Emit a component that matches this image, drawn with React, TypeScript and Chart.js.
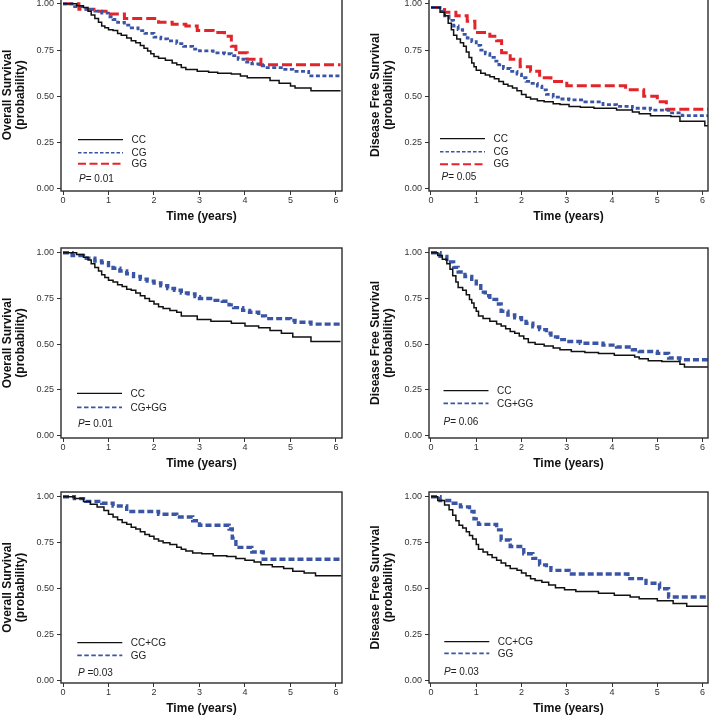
import React, { useEffect, useRef } from "react";
import { Chart, registerables } from "chart.js";
Chart.register(...registerables);

// ---------- axis ticks ----------
const X_TICKS = [0, 1, 2, 3, 4, 5, 6];
const Y_TICKS = [0, 0.25, 0.5, 0.75, 1];

// ---------- Panel 1: Overall survival, CC / CG / GG ----------
const os1CcT = [0, 0.3, 0.45, 0.55, 0.62, 0.7, 0.78, 0.85, 0.92, 1.0, 1.1, 1.2, 1.28, 1.4, 1.5, 1.6, 1.7, 1.78, 1.86, 1.93, 2.0, 2.1, 2.25, 2.4, 2.5, 2.6, 2.7, 2.95, 3.2, 3.4, 3.7, 3.9, 4.05, 4.55, 4.75, 5.0, 5.1, 5.45, 6.1];
const os1CcS = [1, 0.99, 0.98, 0.96, 0.94, 0.92, 0.9, 0.88, 0.87, 0.86, 0.855, 0.84, 0.83, 0.815, 0.8, 0.79, 0.775, 0.76, 0.745, 0.73, 0.715, 0.705, 0.695, 0.68, 0.67, 0.655, 0.645, 0.635, 0.63, 0.625, 0.62, 0.61, 0.6, 0.585, 0.57, 0.555, 0.545, 0.53, 0.53];
const os1CgT = [0, 0.2, 0.5, 0.7, 0.85, 1.0, 1.1, 1.2, 1.35, 1.5, 1.65, 1.8, 2.0, 2.15, 2.3, 2.5, 2.65, 2.85, 3.0, 3.3, 3.55, 3.7, 3.85, 4.0, 4.15, 4.3, 4.45, 4.8, 5.05, 5.4, 6.1];
const os1CgS = [1, 0.985, 0.97, 0.96, 0.95, 0.93, 0.915, 0.9, 0.885, 0.87, 0.855, 0.84, 0.82, 0.81, 0.8, 0.785, 0.77, 0.755, 0.745, 0.735, 0.73, 0.72, 0.7, 0.685, 0.675, 0.665, 0.655, 0.645, 0.635, 0.61, 0.61];
const os1GgT = [0, 0.35, 0.75, 1.0, 1.35, 2.1, 2.4, 2.7, 2.95, 3.3, 3.55, 3.7, 3.8, 4.05, 4.35, 6.1];
const os1GgS = [1, 0.97, 0.96, 0.945, 0.92, 0.9, 0.89, 0.88, 0.855, 0.845, 0.825, 0.77, 0.735, 0.7, 0.67, 0.67];

// ---------- Panel 2: Disease free survival, CC / CG / GG ----------
const dfs1CcT = [0, 0.2, 0.3, 0.38, 0.45, 0.5, 0.57, 0.65, 0.72, 0.78, 0.84, 0.9, 0.95, 1.0, 1.1, 1.2, 1.3, 1.4, 1.5, 1.6, 1.7, 1.8, 1.9, 2.0, 2.1, 2.2, 2.35, 2.5, 2.7, 2.85, 3.05, 3.3, 3.6, 4.1, 4.45, 4.6, 4.85, 5.3, 5.5, 6.05, 6.12];
const dfs1CcS = [0.98, 0.955, 0.935, 0.895, 0.86, 0.83, 0.81, 0.79, 0.77, 0.74, 0.71, 0.68, 0.66, 0.64, 0.625, 0.615, 0.605, 0.595, 0.58, 0.565, 0.555, 0.545, 0.53, 0.51, 0.495, 0.485, 0.475, 0.47, 0.46, 0.455, 0.445, 0.44, 0.435, 0.425, 0.415, 0.405, 0.395, 0.39, 0.365, 0.34, 0.34];
const dfs1CgT = [0, 0.2, 0.3, 0.4, 0.5, 0.6, 0.7, 0.8, 0.9, 1.0, 1.1, 1.2, 1.3, 1.4, 1.5, 1.6, 1.75, 1.9, 2.0, 2.1, 2.2, 2.35, 2.45, 2.55, 2.7, 2.85, 3.05, 3.4, 3.8, 4.1, 4.45, 4.85, 5.25, 5.55, 6.12];
const dfs1CgS = [0.98, 0.96, 0.935, 0.91, 0.88, 0.86, 0.835, 0.815, 0.795, 0.775, 0.75, 0.73, 0.71, 0.69, 0.67, 0.65, 0.635, 0.62, 0.6, 0.58, 0.57, 0.555, 0.535, 0.51, 0.495, 0.485, 0.48, 0.47, 0.455, 0.445, 0.435, 0.425, 0.41, 0.395, 0.395];
const dfs1GgT = [0, 0.3, 0.55, 0.8, 0.97, 1.3, 1.45, 1.56, 1.75, 1.97, 2.2, 2.4, 2.65, 3.0, 4.3, 4.7, 5.0, 5.2, 6.12];
const dfs1GgS = [0.98, 0.955, 0.935, 0.905, 0.845, 0.825, 0.8, 0.735, 0.7, 0.66, 0.635, 0.6, 0.58, 0.557, 0.535, 0.5, 0.47, 0.43, 0.43];

// ---------- Panel 3: Overall survival, CC / CG+GG ----------
const os2CcT = [0, 0.3, 0.45, 0.55, 0.62, 0.7, 0.78, 0.85, 0.92, 1.0, 1.1, 1.2, 1.3, 1.4, 1.5, 1.6, 1.7, 1.8, 1.9, 2.0, 2.1, 2.2, 2.35, 2.5, 2.6, 2.95, 3.25, 3.7, 4.0, 4.3, 4.55, 4.8, 5.05, 5.45, 6.1];
const os2CcS = [1, 0.99, 0.975, 0.96, 0.94, 0.92, 0.9, 0.88, 0.865, 0.85, 0.84, 0.825, 0.815, 0.8, 0.795, 0.78, 0.765, 0.75, 0.735, 0.72, 0.705, 0.695, 0.685, 0.675, 0.655, 0.635, 0.625, 0.615, 0.6, 0.59, 0.575, 0.56, 0.54, 0.515, 0.515];
const os2CgggT = [0, 0.2, 0.45, 0.7, 0.85, 1.0, 1.1, 1.25, 1.4, 1.55, 1.7, 1.85, 2.0, 2.15, 2.3, 2.45, 2.6, 2.75, 2.9, 3.0, 3.3, 3.5, 3.65, 3.75, 3.95, 4.1, 4.3, 4.45, 5.0, 5.1, 5.45, 6.1];
const os2CgggS = [1, 0.985, 0.97, 0.955, 0.945, 0.93, 0.915, 0.9, 0.885, 0.87, 0.855, 0.845, 0.835, 0.82, 0.805, 0.795, 0.78, 0.775, 0.76, 0.75, 0.74, 0.735, 0.715, 0.7, 0.685, 0.675, 0.655, 0.64, 0.63, 0.62, 0.61, 0.61];

// ---------- Panel 4: Disease free survival, CC / CG+GG ----------
const dfs2CcT = [0, 0.15, 0.25, 0.35, 0.42, 0.48, 0.55, 0.6, 0.7, 0.78, 0.85, 0.9, 0.95, 1.0, 1.05, 1.15, 1.3, 1.45, 1.55, 1.65, 1.75, 1.85, 1.95, 2.05, 2.15, 2.3, 2.5, 2.7, 2.85, 3.1, 3.4, 3.7, 4.05, 4.5, 4.6, 4.8, 5.1, 5.5, 5.6, 6.12, 6.17];
const dfs2CcS = [1, 0.985, 0.965, 0.94, 0.91, 0.875, 0.84, 0.81, 0.795, 0.77, 0.745, 0.725, 0.7, 0.68, 0.655, 0.64, 0.625, 0.61, 0.6, 0.585, 0.57, 0.56, 0.545, 0.53, 0.51, 0.5, 0.49, 0.48, 0.47, 0.46, 0.455, 0.45, 0.44, 0.43, 0.42, 0.41, 0.405, 0.39, 0.375, 0.375, 0.35];
const dfs2CgggT = [0, 0.2, 0.35, 0.5, 0.6, 0.75, 0.9, 1.0, 1.1, 1.2, 1.3, 1.45, 1.55, 1.7, 1.85, 2.0, 2.1, 2.25, 2.4, 2.55, 2.65, 2.8, 3.0, 3.3, 3.8, 4.1, 4.45, 4.6, 5.0, 5.25, 5.5, 6.17];
const dfs2CgggS = [1, 0.98, 0.95, 0.92, 0.895, 0.87, 0.845, 0.82, 0.785, 0.765, 0.745, 0.72, 0.68, 0.66, 0.645, 0.635, 0.615, 0.595, 0.58, 0.56, 0.54, 0.525, 0.515, 0.505, 0.495, 0.485, 0.47, 0.46, 0.45, 0.425, 0.415, 0.415];

// ---------- Panel 5: Overall survival, CC+CG / GG ----------
const os3CccgT = [0, 0.25, 0.45, 0.6, 0.75, 0.9, 1.0, 1.1, 1.2, 1.3, 1.4, 1.5, 1.6, 1.7, 1.8, 1.9, 2.0, 2.1, 2.2, 2.35, 2.5, 2.6, 2.7, 2.85, 3.05, 3.3, 3.6, 3.8, 4.0, 4.2, 4.35, 4.6, 4.85, 5.05, 5.3, 5.55, 6.12];
const os3CccgS = [1, 0.99, 0.975, 0.96, 0.945, 0.925, 0.905, 0.89, 0.875, 0.86, 0.85, 0.835, 0.825, 0.81, 0.795, 0.785, 0.77, 0.76, 0.75, 0.74, 0.725, 0.715, 0.705, 0.695, 0.69, 0.68, 0.675, 0.665, 0.655, 0.645, 0.63, 0.62, 0.61, 0.595, 0.585, 0.57, 0.57];
const os3GgT = [0, 0.25, 0.5, 0.85, 1.1, 1.4, 2.1, 2.5, 2.85, 3.0, 3.65, 3.72, 3.8, 4.15, 4.4, 6.12];
const os3GgS = [1, 0.99, 0.975, 0.965, 0.95, 0.92, 0.905, 0.89, 0.87, 0.845, 0.825, 0.775, 0.725, 0.7, 0.66, 0.66];

// ---------- Panel 6: Disease free survival, CC+CG / GG ----------
const dfs3CccgT = [0, 0.15, 0.3, 0.4, 0.48, 0.55, 0.62, 0.7, 0.78, 0.85, 0.92, 1.0, 1.05, 1.15, 1.25, 1.35, 1.45, 1.55, 1.65, 1.75, 1.9, 2.0, 2.1, 2.2, 2.3, 2.45, 2.6, 2.75, 2.95, 3.2, 3.7, 4.05, 4.4, 4.6, 5.0, 5.35, 5.65, 6.1, 6.15];
const dfs3CccgS = [1, 0.98, 0.955, 0.93, 0.9, 0.87, 0.845, 0.83, 0.81, 0.79, 0.77, 0.74, 0.715, 0.7, 0.685, 0.67, 0.655, 0.64, 0.625, 0.61, 0.6, 0.585, 0.57, 0.555, 0.545, 0.535, 0.52, 0.505, 0.495, 0.485, 0.475, 0.465, 0.455, 0.445, 0.435, 0.42, 0.405, 0.405, 0.365];
const dfs3GgT = [0, 0.2, 0.45, 0.65, 0.85, 0.95, 1.05, 1.45, 1.55, 1.75, 2.05, 2.25, 2.4, 2.55, 2.65, 3.05, 4.35, 4.75, 5.05, 5.25, 6.15];
const dfs3GgS = [1, 0.98, 0.965, 0.945, 0.92, 0.88, 0.85, 0.82, 0.765, 0.73, 0.69, 0.665, 0.63, 0.615, 0.6, 0.58, 0.555, 0.53, 0.5, 0.455, 0.455];

// ---------- labels ----------
const OS_TITLE = "Overall Survival";
const DFS_TITLE = "Disease Free Survival";
const Y_SUBTITLE = "(probability)";
const X_TITLE = "Time (years)";
const P_VALUES = ["= 0.01", "= 0.05", "= 0.01", "= 0.06", " =0.03", "= 0.03"];

// ---------- styles ----------
const FONT = "'Liberation Sans', Arial, Helvetica, sans-serif";
const BLACK = "#111111";
const BLUE = "#3a55a5";
const RED = "#e3242b";

type Kind = "solid" | "blueSmall" | "blueBig" | "red";
const STYLES: Record<Kind, { color: string; width: number; dash: number[]; lw: number; ldash: number[] }> = {
  solid: { color: BLACK, width: 1.5, dash: [], lw: 1.3, ldash: [] },
  blueSmall: { color: BLUE, width: 2.8, dash: [4, 2.5], lw: 1.5, ldash: [3.5, 2] },
  blueBig: { color: BLUE, width: 3.4, dash: [6, 3], lw: 1.8, ldash: [4.5, 2.5] },
  red: { color: RED, width: 3, dash: [10, 4], lw: 2, ldash: [8, 3.5] },
};

type Series = { label: string; t: number[]; s: number[]; kind: Kind };
type PanelCfg = {
  left: number; top: number; w: number; h: number;
  xMax: number; title: string; series: Series[]; p: string;
  leg: { x: number; rows: number[]; px: number; py: number };
};

const LEFT_COL = { left: 0, w: 346, xMax: 6.132 };
const RIGHT_COL = { left: 368, w: 344, xMax: 6.12 };
const ROW1 = { top: -13, h: 240 };
const ROW2 = { top: 236, h: 238 };
const ROW3 = { top: 480, h: 239 };

const PANELS: PanelCfg[] = [
  {
    ...LEFT_COL, ...ROW1, title: OS_TITLE, p: P_VALUES[0],
    series: [
      { label: "CC", t: os1CcT, s: os1CcS, kind: "solid" },
      { label: "CG", t: os1CgT, s: os1CgS, kind: "blueSmall" },
      { label: "GG", t: os1GgT, s: os1GgS, kind: "red" },
    ],
    leg: { x: 17, rows: [49, 36, 25], px: 18, py: 9 },
  },
  {
    ...RIGHT_COL, ...ROW1, title: DFS_TITLE, p: P_VALUES[1],
    series: [
      { label: "CC", t: dfs1CcT, s: dfs1CcS, kind: "solid" },
      { label: "CG", t: dfs1CgT, s: dfs1CgS, kind: "blueSmall" },
      { label: "GG", t: dfs1GgT, s: dfs1GgS, kind: "red" },
    ],
    leg: { x: 11, rows: [50, 37, 24.5], px: 12.5, py: 11.5 },
  },
  {
    ...LEFT_COL, ...ROW2, title: OS_TITLE, p: P_VALUES[2],
    series: [
      { label: "CC", t: os2CcT, s: os2CcS, kind: "solid" },
      { label: "CG+GG", t: os2CgggT, s: os2CgggS, kind: "blueBig" },
    ],
    leg: { x: 16, rows: [42.4, 28.4], px: 17, py: 11.4 },
  },
  {
    ...RIGHT_COL, ...ROW2, title: DFS_TITLE, p: P_VALUES[3],
    series: [
      { label: "CC", t: dfs2CcT, s: dfs2CcS, kind: "solid" },
      { label: "CG+GG", t: dfs2CgggT, s: dfs2CgggS, kind: "blueBig" },
    ],
    leg: { x: 14.5, rows: [45, 32.4], px: 14.5, py: 13 },
  },
  {
    ...LEFT_COL, ...ROW3, title: OS_TITLE, p: P_VALUES[4],
    series: [
      { label: "CC+CG", t: os3CccgT, s: os3CccgS, kind: "solid" },
      { label: "GG", t: os3GgT, s: os3GgS, kind: "blueBig" },
    ],
    leg: { x: 16.3, rows: [38, 25.4], px: 17, py: 7.4 },
  },
  {
    ...RIGHT_COL, ...ROW3, title: DFS_TITLE, p: P_VALUES[5],
    series: [
      { label: "CC+CG", t: dfs3CccgT, s: dfs3CccgS, kind: "solid" },
      { label: "GG", t: dfs3GgT, s: dfs3GgS, kind: "blueBig" },
    ],
    leg: { x: 15.3, rows: [39, 27.4], px: 15, py: 8.4 },
  },
];

const Y_MIN = -0.0125;
const Y_MAX = 1.026;
const X_MIN = -0.044;

function Panel({ cfg }: { cfg: PanelCfg }) {
  const ref = useRef<HTMLCanvasElement>(null);
  useEffect(() => {
    const canvas = ref.current!;
    const datasets = cfg.series.map((se) => {
      const st = STYLES[se.kind];
      return {
        label: se.label,
        data: se.t.map((x, i) => ({ x, y: se.s[i] })),
        borderColor: st.color,
        backgroundColor: st.color,
        borderWidth: st.width,
        borderDash: st.dash,
        stepped: "before" as const,
        pointRadius: 0,
        pointHoverRadius: 0,
        fill: false,
        tension: 0,
      };
    });

    const boxPlugin = {
      id: "box" + cfg.left + "_" + cfg.top,
      afterDatasetsDraw(chart: any) {
        const { ctx, chartArea: a } = chart;
        ctx.save();
        ctx.strokeStyle = "#2b2b2b";
        ctx.lineWidth = 1.4;
        ctx.setLineDash([]);
        ctx.strokeRect(a.left, a.top, a.right - a.left, a.bottom - a.top);
        ctx.restore();
      },
    };

    const legendPlugin = {
      id: "kmlegend" + cfg.left + "_" + cfg.top,
      afterDraw(chart: any) {
        const { ctx, chartArea: a } = chart;
        const y0 = chart.scales.y.getPixelForValue(0);
        ctx.save();
        cfg.series.forEach((se, i) => {
          const st = STYLES[se.kind];
          const yy = y0 - cfg.leg.rows[i];
          const x0 = a.left + cfg.leg.x;
          ctx.strokeStyle = st.color;
          ctx.lineWidth = st.lw;
          ctx.setLineDash(st.ldash);
          ctx.beginPath();
          ctx.moveTo(x0, yy);
          ctx.lineTo(x0 + 45, yy);
          ctx.stroke();
          ctx.setLineDash([]);
          ctx.fillStyle = "#222";
          ctx.font = `10px ${FONT}`;
          ctx.textBaseline = "middle";
          ctx.textAlign = "left";
          ctx.fillText(se.label, x0 + 53.5, yy + 0.5);
        });
        const px = a.left + cfg.leg.px;
        const py = y0 - cfg.leg.py;
        ctx.fillStyle = "#222";
        ctx.textBaseline = "middle";
        ctx.font = `italic 10px ${FONT}`;
        ctx.fillText("P", px, py);
        const w = ctx.measureText("P").width;
        ctx.font = `10px ${FONT}`;
        ctx.fillText(cfg.p, px + w, py);
        ctx.restore();
      },
    };

    const tickFont = { family: FONT, size: 9, lineHeight: 1.2 };
    const titleFont = { family: FONT, size: 12, weight: "bold" as const, lineHeight: 1.1 };
    const grid = { display: true, drawOnChartArea: false, drawTicks: true, tickLength: 4, color: "#333", lineWidth: 1 };

    const chart = new Chart(canvas, {
      type: "line",
      data: { datasets: datasets as any },
      options: {
        responsive: false,
        animation: false,
        devicePixelRatio: 1,
        events: [],
        layout: { padding: { top: 12, left: 0, right: 4, bottom: 0 } },
        plugins: { legend: { display: false }, tooltip: { enabled: false }, title: { display: false } },
        scales: {
          x: {
            type: "linear",
            min: X_MIN,
            max: cfg.xMax,
            afterBuildTicks: (sc: any) => { sc.ticks = X_TICKS.map((v) => ({ value: v })); },
            afterFit: (sc: any) => { sc.height = 36; },
            ticks: { font: tickFont, color: "#333", padding: 0, maxRotation: 0, autoSkip: false, callback: (v: any) => String(v) },
            grid,
            border: { display: false },
            title: { display: true, text: X_TITLE, font: titleFont, color: "#111", padding: { top: 0, bottom: 3.4 } },
          },
          y: {
            type: "linear",
            min: Y_MIN,
            max: Y_MAX,
            afterBuildTicks: (sc: any) => { sc.ticks = Y_TICKS.map((v) => ({ value: v })); },
            afterFit: (sc: any) => { sc.width = 61; },
            ticks: { font: tickFont, color: "#333", padding: 3, autoSkip: false, callback: (v: any) => Number(v).toFixed(2) },
            grid,
            border: { display: false },
            title: { display: true, text: [cfg.title, Y_SUBTITLE], font: titleFont, color: "#111", padding: { top: 1, bottom: 0 } },
          },
        },
      } as any,
      plugins: [boxPlugin, legendPlugin],
    });
    return () => chart.destroy();
  }, [cfg]);
  return (
    <canvas
      ref={ref}
      width={cfg.w}
      height={cfg.h}
      style={{ position: "absolute", left: cfg.left, top: cfg.top, width: cfg.w, height: cfg.h, display: "block" }}
    />
  );
}

export default function App() {
  return (
    <div style={{ position: "fixed", left: 0, top: 0, width: 709, height: 716, overflow: "hidden", background: "#fff" }}>
      {PANELS.map((p, i) => (
        <Panel key={i} cfg={p} />
      ))}
    </div>
  );
}
